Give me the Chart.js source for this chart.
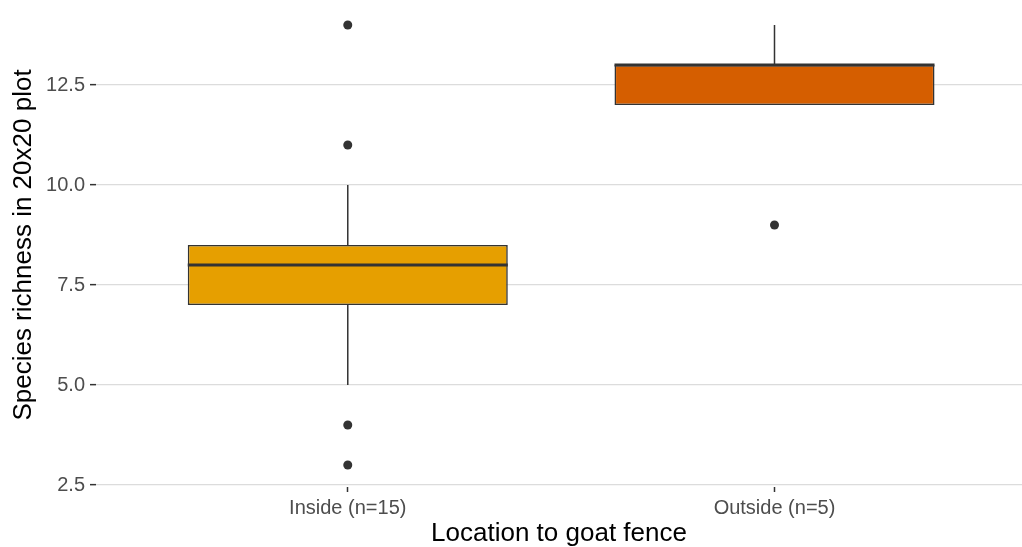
<!DOCTYPE html>
<html>
<head>
<meta charset="utf-8">
<script src="https://cdn.jsdelivr.net/npm/chart.js@4"></script>
<style>
  html, body { margin: 0; padding: 0; background: #fff; }
  #wrap { width: 1022px; height: 547px; }
</style>
</head>
<body>
<div id="wrap"><canvas id="box"></canvas></div>
<script>
// data
const groups = ['Inside (n=15)', 'Outside (n=5)'];
const positions = [1, 2];
const q1 = [7, 12];
const q3 = [8.5, 13];
const medians = [8, 13];
const lowerWhisker = [5, 12];
const upperWhisker = [10, 14];
const outliersInside = [14, 11, 4, 3];
const outliersOutside = [9];
const yTicks = [2.5, 5, 7.5, 10, 12.5];
const boxColors = ['#E69F00', '#D55E00'];

const FONT = '"Liberation Sans", Arial, sans-serif';
const LINE = '#333333';

const outlierPoints = [];
outliersInside.forEach(v => outlierPoints.push({ x: positions[0], y: v }));
outliersOutside.forEach(v => outlierPoints.push({ x: positions[1], y: v }));

// whiskers behind boxes, medians on top
const boxParts = {
    id: 'boxParts',
    beforeDatasetsDraw(chart) {
        const { ctx, scales: { x, y } } = chart;
        ctx.save();
        ctx.strokeStyle = LINE;
        ctx.lineWidth = 1.5;
        positions.forEach((p, i) => {
            const px = x.getPixelForValue(p);
            ctx.beginPath();
            ctx.moveTo(px, y.getPixelForValue(q3[i]));
            ctx.lineTo(px, y.getPixelForValue(upperWhisker[i]));
            ctx.moveTo(px, y.getPixelForValue(q1[i]));
            ctx.lineTo(px, y.getPixelForValue(lowerWhisker[i]));
            ctx.stroke();
        });
        ctx.restore();
    },
    afterDatasetsDraw(chart) {
        const { ctx, scales: { y } } = chart;
        const meta = chart.getDatasetMeta(0);
        ctx.save();
        ctx.strokeStyle = LINE;
        ctx.lineWidth = 3;
        meta.data.forEach((bar, i) => {
            const py = y.getPixelForValue(medians[i]);
            ctx.beginPath();
            ctx.moveTo(bar.x - bar.width / 2, py);
            ctx.lineTo(bar.x + bar.width / 2, py);
            ctx.stroke();
        });
        ctx.restore();
    }
};

new Chart(document.getElementById('box'), {
    type: 'bar',
    data: {
        datasets: [
            {
                label: 'box',
                data: positions.map((p, i) => ({ x: p, y: [q1[i], q3[i]] })),
                backgroundColor: boxColors,
                borderColor: LINE,
                borderWidth: 1.6,
                borderSkipped: false,
                barPercentage: 1,
                categoryPercentage: 0.75,
                order: 1
            },
            {
                type: 'scatter',
                label: 'outliers',
                data: outlierPoints,
                pointRadius: 4.5,
                pointBackgroundColor: LINE,
                pointBorderWidth: 0,
                order: 0
            }
        ]
    },
    options: {
        responsive: true,
        maintainAspectRatio: false,
        animation: false,
        layout: { autoPadding: false, padding: { top: 3, left: 0, right: 0, bottom: 0 } },
        plugins: { legend: { display: false }, tooltip: { enabled: false } },
        scales: {
            x: {
                type: 'linear',
                offset: false,
                min: 0.41,
                max: 2.58,
                afterBuildTicks: s => { s.ticks = positions.map(v => ({ value: v })); },
                afterFit: s => { s.height = 60; s.paddingLeft = 0; s.paddingRight = 0; },
                grid: { offset: false, drawOnChartArea: false, drawTicks: true, tickLength: 5, tickColor: LINE, tickWidth: 1.5 },
                border: { display: false },
                ticks: {
                    padding: 4,
                    color: '#4D4D4D',
                    font: { family: FONT, size: 20 },
                    callback: v => groups[positions.indexOf(v)]
                },
                title: {
                    display: true,
                    text: 'Location to goat fence',
                    color: '#000',
                    font: { family: FONT, size: 26 },
                    padding: { top: 0, bottom: -2 }
                }
            },
            y: {
                min: 2.45,
                max: 14.55,
                afterBuildTicks: s => { s.ticks = yTicks.map(v => ({ value: v })); },
                afterFit: s => { s.width = 96; s.paddingTop = 0; s.paddingBottom = 0; },
                grid: { color: '#DCDCDC', lineWidth: 1.3, drawTicks: true, tickLength: 6, tickColor: LINE, tickWidth: 1.5 },
                border: { display: false },
                ticks: {
                    padding: 5,
                    color: '#4D4D4D',
                    font: { family: FONT, size: 20 },
                    callback: v => v.toFixed(1)
                },
                title: {
                    display: true,
                    text: 'Species richness in 20x20 plot',
                    color: '#000',
                    font: { family: FONT, size: 26 },
                    padding: { top: 8, bottom: 0 }
                }
            }
        }
    },
    plugins: [boxParts]
});
</script>
</body>
</html>
